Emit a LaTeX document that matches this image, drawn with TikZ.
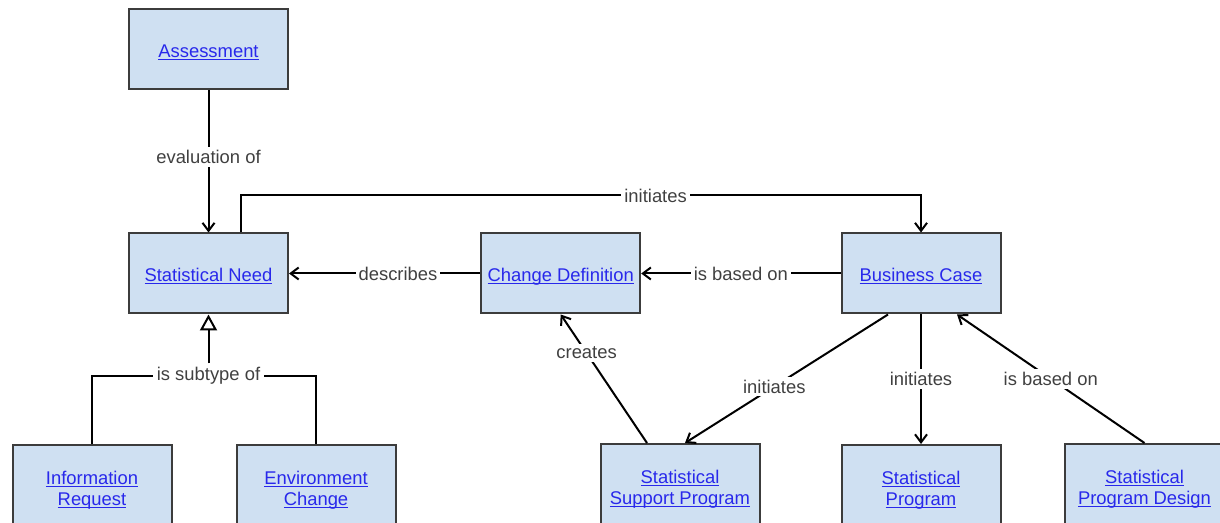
\documentclass[tikz,border=0pt]{standalone}
\usepackage{fontspec}
\setmainfont{Liberation Sans}
\usetikzlibrary{arrows.meta}
\definecolor{boxfill}{RGB}{207,224,242}
\definecolor{boxline}{RGB}{60,60,60}
\definecolor{linkblue}{RGB}{40,40,235}
\definecolor{lbltext}{RGB}{64,64,64}
\newcommand{\lnk}[1]{\setbox0\hbox{#1}\rlap{\rule[-1.3pt]{\wd0}{0.5pt}}\box0}

\begin{document}
\begin{tikzpicture}[x=0.5pt,y=-0.5pt,line width=1pt,
    cls/.style={draw=boxline,fill=boxfill,minimum width=79.5pt,minimum height=40pt,inner sep=0pt,
      align=center,text=linkblue,font=\fontsize{9.2}{10.5}\selectfont,
      execute at begin node={\rule{0pt}{9.7pt}}},
    clslow/.style={cls,minimum height=45pt},
    lbl/.style={fill=white,inner sep=1.5pt,text=lbltext,font=\fontsize{9.2}{11}\selectfont},
    arr/.style={-{Straight Barb[length=4pt,width=6pt]}},
    isa/.style={-{Triangle[open,length=8pt,width=8.5pt]}}]
 \useasboundingbox (0,0) rectangle (1220,523);

 \node[cls] (assess) at (208.5,49) {\lnk{Assessment}};
 \node[cls] (need) at (208.5,273.5) {\lnk{Statistical Need}};
 \node[cls] (cdef) at (560.7,273.5) {\lnk{Change Definition}};
 \node[cls] (bcase) at (921,273.5) {\lnk{Business Case}};
 % bottom row runs off the lower edge
 \node[clslow] (inforeq) at (92,490) {\lnk{Information}\\\lnk{Request}};
 \node[clslow] (envch) at (316,490) {\lnk{Environment}\\\lnk{Change}};
 \node[clslow] (ssprog) at (680,489) {\lnk{Statistical}\\\lnk{Support Program}};
 \node[clslow] (sprog) at (921,490) {\lnk{Statistical}\\\lnk{Program}};
 \node[clslow] (spdes) at (1144.5,489) {\lnk{Statistical}\\\lnk{Program Design}};

 \draw[arr] (assess) -- node[lbl,pos=0.47] {evaluation of} (need);
 \draw[arr] ([xshift=16pt]need.north) -- ++(0,-37) -| node[lbl,pos=0.305] {initiates} (bcase.north);
 \draw[arr] (cdef) -- node[lbl,pos=0.43] {describes} (need);
 \draw[arr] (bcase) -- node[lbl] {is based on} (cdef);
 \draw[arr] ([xshift=-16.5pt]ssprog.north) -- node[lbl,pos=0.7] {creates} (cdef.south);
 \draw[arr] ([xshift=-16.5pt]bcase.south) -- node[lbl,pos=0.56] {initiates} ([xshift=2.5pt]ssprog.north);
 \draw[arr] (bcase) -- node[lbl] {initiates} (sprog);
 \draw[arr] (spdes.north) -- node[lbl] {is based on} ([xshift=18pt]bcase.south);

 % generalisation
 \node[lbl] (subl) at (208.5,376) {is subtype of};
 \draw (inforeq.north) |- (subl.west);
 \draw (envch.north) |- (subl.east);
 \draw[isa] (subl.north) -- (need.south);
\end{tikzpicture}
\end{document}
